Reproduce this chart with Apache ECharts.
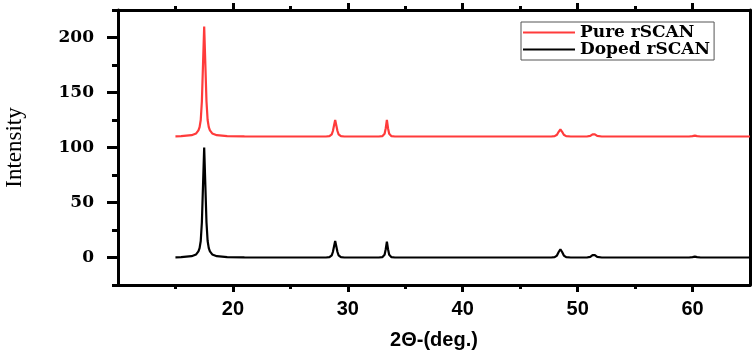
<!DOCTYPE html>
<html lang="en">
<head>
    <meta charset="UTF-8">
    <script src="https://cdn.jsdelivr.net/npm/echarts@6/dist/echarts.min.js"></script>
    <title>xrd</title>
    <style>
        body { margin: 0; background: #fff; }
        #chart { width: 754px; height: 355px; }
    </style>
</head>
<body>
    <div id="chart"></div>
    <script>
        // 2theta positions
        let twoTheta = [15, 15.5, 16.4, 16.8, 17.0, 17.1, 17.2, 17.3, 17.4, 17.5, 17.6, 17.7, 17.8, 17.9, 18.0, 18.2, 18.6, 19.5, 21, 25,
            28.1, 28.4, 28.6, 28.7, 28.8, 28.9, 29.0, 29.1, 29.2, 29.4, 29.7,
            32.7, 33.0, 33.2, 33.3, 33.4, 33.5, 33.6, 33.8, 34.1,
            47.7, 48.0, 48.2, 48.35, 48.5, 48.65, 48.8, 49.0, 49.4,
            50.8, 51.1, 51.3, 51.4, 51.5, 51.7, 52.1,
            59.7, 60.0, 60.2, 60.4, 60.7, 65];
        let dopedIntensity = [0.2, 0.3, 1.2, 2.8, 5.5, 8.5, 15, 32, 66, 100, 66, 32, 15, 8.5, 5.5, 2.8, 1.2, 0.3, 0.1, 0,
            0, 0.3, 2, 5, 10, 15, 10, 5, 2, 0.3, 0,
            0, 0.3, 2.5, 7.5, 14.5, 7.5, 2.5, 0.3, 0,
            0, 0.3, 1.8, 5, 7.5, 5, 1.8, 0.3, 0,
            0, 0.6, 2.2, 2.7, 2.2, 0.6, 0,
            0, 0.4, 0.8, 0.4, 0, 0];
        let pureIntensity = [110.2, 110.3, 111.2, 112.8, 115.5, 118.5, 125, 142, 176, 210, 176, 142, 125, 118.5, 115.5, 112.8, 111.2, 110.3, 110.1, 110,
            110, 110.3, 112, 115, 120, 125, 120, 115, 112, 110.3, 110,
            110, 110.3, 112.5, 117.5, 125, 117.5, 112.5, 110.3, 110,
            110, 110.3, 111.6, 114.3, 116.5, 114.3, 111.6, 110.3, 110,
            110, 110.5, 111.9, 112.3, 111.9, 110.5, 110,
            110, 110.3, 110.8, 110.3, 110, 110];
        let xMajor = [20, 30, 40, 50, 60];
        let xMinor = [15, 25, 35, 45, 55];
        let yMajor = [0, 50, 100, 150, 200];
        let yMinor = [-25, 25, 75, 125, 175, 225];

        function pairs(ys) {
            return twoTheta.map(function (x, i) { return [x, ys[i]]; });
        }

        let lineStyleAxis = { color: '#000', width: 3 };

        function xAx(pos, ticks, len, showLine, showLabel) {
            return {
                type: 'value', position: pos, min: 10, max: 65,
                axisLine: { show: showLine, onZero: false, lineStyle: lineStyleAxis },
                axisTick: { show: true, customValues: ticks, length: len, lineStyle: { color: '#000', width: 3 } },
                axisLabel: {
                    show: showLabel, customValues: xMajor, margin: 14,
                    color: '#000', fontFamily: 'Liberation Sans', fontWeight: 'bold', fontSize: 20
                },
                splitLine: { show: false }
            };
        }

        function yAx(pos, ticks, len, showLine, showLabel) {
            return {
                type: 'value', position: pos, min: -25, max: 225,
                axisLine: { show: showLine, onZero: false, lineStyle: lineStyleAxis },
                axisTick: { show: ticks.length > 0, customValues: ticks, length: len, lineStyle: { color: '#000', width: 3 } },
                axisLabel: {
                    show: showLabel, customValues: yMajor, margin: 24,
                    color: '#000', fontFamily: 'DejaVu Serif', fontWeight: 'bold', fontSize: 17
                },
                splitLine: { show: false }
            };
        }

        let xBottom = xAx('bottom', xMajor, 7, true, true);
        xBottom.name = '2Θ-(deg.)';
        xBottom.nameLocation = 'middle';
        xBottom.nameGap = 45;
        xBottom.nameTextStyle = { color: '#000', fontFamily: 'Liberation Sans', fontWeight: 'bold', fontSize: 20 };

        let yLeft = yAx('left', yMajor, 11, true, true);
        yLeft.name = 'Intensity';
        yLeft.nameLocation = 'middle';
        yLeft.nameGap = 92;
        yLeft.nameTextStyle = { color: '#000', fontFamily: 'Liberation Serif', fontSize: 23 };

        let option = {
            backgroundColor: '#fff',
            animation: false,
            grid: { left: 118, right: 4, top: 10, bottom: 70, outerBoundsMode: 'none' },
            legend: {
                orient: 'vertical', left: 521, top: 22,
                padding: [2, 4, 2, 2], itemGap: 0,
                borderColor: '#555', borderWidth: 1,
                icon: 'rect', itemWidth: 52, itemHeight: 2,
                textStyle: { color: '#000', fontFamily: 'DejaVu Serif', fontWeight: 'bold', fontSize: 17, lineHeight: 15 },
                data: ['Pure rSCAN', 'Doped rSCAN']
            },
            xAxis: [
                xBottom,
                xAx('bottom', xMinor, 4, false, false),
                xAx('top', xMajor, 7, true, false),
                xAx('top', xMinor, 4, false, false)
            ],
            yAxis: [
                yLeft,
                yAx('left', yMinor, 6, false, false),
                yAx('right', [], 0, true, false)
            ],
            series: [
                {
                    name: 'Pure rSCAN', type: 'line', data: pairs(pureIntensity),
                    showSymbol: false, color: '#ff3b3b', lineStyle: { width: 2.2 }
                },
                {
                    name: 'Doped rSCAN', type: 'line', data: pairs(dopedIntensity),
                    showSymbol: false, color: '#000', lineStyle: { width: 2.2 }
                }
            ]
        };

        let myChart = echarts.init(document.getElementById('chart'));
        myChart.setOption(option);
    </script>
</body>
</html>
